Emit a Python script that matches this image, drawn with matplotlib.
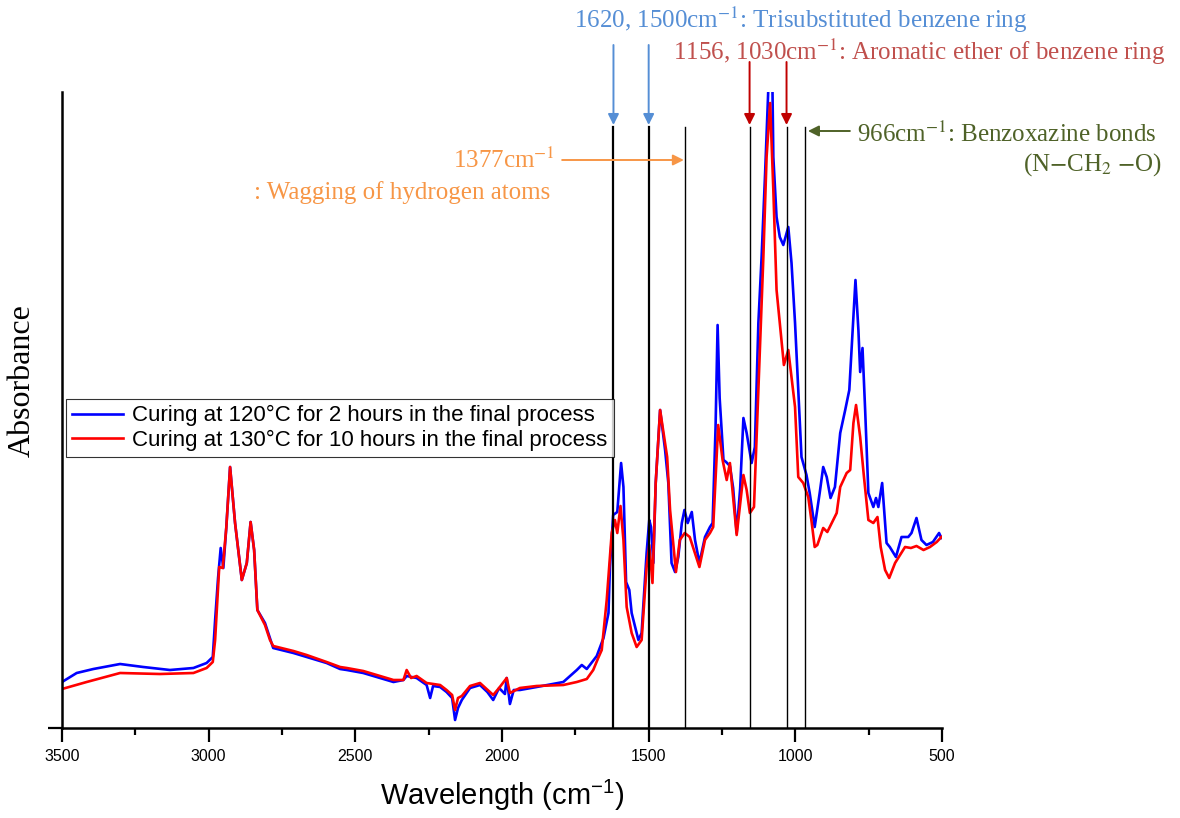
import matplotlib
matplotlib.use('Agg')
import matplotlib.pyplot as plt

# FTIR spectra, wavenumber (cm-1) vs absorbance (arb. units)
wn_120 = [3500, 3450, 3393, 3302, 3223, 3132, 3052, 3007, 2986, 2978, 2968, 2959, 2950, 2940,
          2927, 2910, 2887, 2870, 2857, 2845, 2834, 2808, 2791, 2780, 2711, 2666, 2598, 2552,
          2529, 2473, 2370, 2336, 2325, 2291, 2257, 2245, 2235, 2211, 2189, 2170, 2160, 2150,
          2137, 2109, 2075, 2050, 2030, 2010, 1990, 1984, 1973, 1960, 1939, 1882, 1791, 1745,
          1728, 1711, 1677, 1654, 1637, 1632, 1621, 1607, 1594, 1586, 1577, 1566, 1558, 1535,
          1524, 1507, 1498, 1492, 1484, 1476, 1461, 1444, 1433, 1422, 1410, 1399, 1387, 1378,
          1367, 1353, 1342, 1327, 1308, 1291, 1282, 1272, 1265, 1258, 1245, 1236, 1223, 1212,
          1200, 1188, 1177, 1166, 1149, 1138, 1126, 1115, 1103, 1092, 1085, 1078, 1075, 1064,
          1053, 1041, 1024, 1013, 1001, 990, 979, 962, 951, 934, 917, 905, 893, 880, 865, 847,
          830, 816, 804, 795, 785, 779, 771, 762, 751, 734, 725, 717, 704, 689, 678, 657, 638,
          615, 604, 587, 570, 553, 531, 510, 502]
abs_120 = [0.046, 0.055, 0.059, 0.064, 0.061, 0.058, 0.060, 0.065, 0.071, 0.108, 0.150, 0.180,
           0.160, 0.200, 0.261, 0.205, 0.148, 0.165, 0.206, 0.178, 0.118, 0.105, 0.090, 0.080,
           0.075, 0.071, 0.065, 0.059, 0.058, 0.055, 0.046, 0.048, 0.052, 0.050, 0.043, 0.030,
           0.042, 0.041, 0.036, 0.030, 0.008, 0.020, 0.028, 0.040, 0.043, 0.036, 0.028, 0.040,
           0.034, 0.050, 0.024, 0.038, 0.038, 0.041, 0.046, 0.058, 0.063, 0.059, 0.072, 0.090,
           0.115, 0.161, 0.213, 0.216, 0.265, 0.241, 0.146, 0.138, 0.115, 0.088, 0.095, 0.175,
           0.208, 0.201, 0.165, 0.245, 0.318, 0.278, 0.245, 0.165, 0.156, 0.171, 0.205, 0.218,
           0.205, 0.216, 0.188, 0.165, 0.191, 0.201, 0.205, 0.300, 0.403, 0.330, 0.268, 0.266,
           0.262, 0.240, 0.195, 0.240, 0.310, 0.295, 0.265, 0.281, 0.405, 0.471, 0.555, 0.640,
           0.670, 0.640, 0.571, 0.511, 0.491, 0.483, 0.501, 0.465, 0.405, 0.338, 0.271, 0.253,
           0.235, 0.201, 0.235, 0.261, 0.251, 0.230, 0.241, 0.295, 0.318, 0.338, 0.401, 0.448,
           0.398, 0.356, 0.380, 0.318, 0.235, 0.221, 0.230, 0.221, 0.245, 0.185, 0.181, 0.171,
           0.191, 0.191, 0.195, 0.210, 0.188, 0.183, 0.186, 0.195, 0.190]

wn_130 = [3500, 3416, 3302, 3166, 3052, 3007, 2986, 2978, 2964, 2952, 2940, 2927, 2910, 2887,
          2870, 2857, 2845, 2834, 2808, 2791, 2780, 2711, 2666, 2598, 2552, 2529, 2473, 2370,
          2336, 2325, 2310, 2291, 2257, 2211, 2189, 2170, 2160, 2150, 2137, 2109, 2075, 2030,
          2010, 1984, 1973, 1939, 1882, 1791, 1745, 1711, 1689, 1672, 1660, 1643, 1626, 1615,
          1607, 1596, 1586, 1575, 1558, 1541, 1524, 1507, 1498, 1487, 1476, 1461, 1437, 1427,
          1407, 1394, 1377, 1360, 1327, 1308, 1291, 1280, 1263, 1248, 1234, 1223, 1200, 1177,
          1166, 1155, 1141, 1126, 1109, 1098, 1086, 1075, 1064, 1053, 1039, 1024, 1013, 1001,
          990, 973, 956, 944, 934, 925, 905, 891, 876, 859, 847, 825, 813, 802, 793, 779, 766,
          751, 734, 720, 709, 694, 680, 660, 643, 626, 606, 587, 563, 541, 518, 502]
abs_130 = [0.039, 0.046, 0.055, 0.054, 0.055, 0.060, 0.066, 0.088, 0.161, 0.160, 0.200, 0.261,
           0.205, 0.148, 0.165, 0.206, 0.178, 0.118, 0.103, 0.088, 0.082, 0.077, 0.073, 0.066,
           0.061, 0.060, 0.057, 0.048, 0.048, 0.058, 0.050, 0.052, 0.045, 0.043, 0.038, 0.033,
           0.018, 0.030, 0.032, 0.042, 0.045, 0.033, 0.040, 0.050, 0.035, 0.040, 0.042, 0.043,
           0.046, 0.049, 0.058, 0.070, 0.078, 0.128, 0.195, 0.208, 0.195, 0.222, 0.188, 0.121,
           0.095, 0.081, 0.088, 0.161, 0.183, 0.145, 0.245, 0.318, 0.271, 0.218, 0.156, 0.188,
           0.195, 0.191, 0.161, 0.188, 0.195, 0.201, 0.303, 0.268, 0.248, 0.265, 0.193, 0.253,
           0.238, 0.215, 0.221, 0.338, 0.471, 0.571, 0.625, 0.538, 0.438, 0.405, 0.363, 0.378,
           0.351, 0.321, 0.251, 0.245, 0.231, 0.205, 0.181, 0.183, 0.200, 0.196, 0.205, 0.215,
           0.241, 0.255, 0.258, 0.305, 0.323, 0.291, 0.251, 0.208, 0.205, 0.211, 0.181, 0.158,
           0.150, 0.165, 0.173, 0.181, 0.180, 0.182, 0.178, 0.181, 0.186, 0.191]

marker_wn = [1620, 1500, 1377, 1156, 1030, 966]
marker_top = 0.601

label_120 = 'Curing at 120°C for 2 hours in the final process'
label_130 = 'Curing at 130°C for 10 hours in the final process'

c_blue_txt = '#558ed5'
c_red_txt = '#c0504d'
c_red_arr = '#c00000'
c_green = '#4f6228'
c_orange = '#f79646'
serif = 'Liberation Serif'
fs_note = 18
plt.rcParams['mathtext.fontset'] = 'stix'

fig = plt.figure(figsize=(11.8, 8.18), dpi=100)
ax = fig.add_axes([62/1180, 1 - 728/818, 880/1180, 636/818])

ax.plot(wn_120, abs_120, color='#0000ff', lw=1.9, label=label_120)
ax.plot(wn_130, abs_130, color='#ff0000', lw=1.9, label=label_130)

for i, w in enumerate(marker_wn):
    ax.plot([w, w], [0, marker_top], color='black', lw=1.6 if i < 2 else 1.0, zorder=3)

ax.set_xlim(3500, 500)
ax.set_ylim(0, 0.636)
ax.set_xticks([3500, 3000, 2500, 2000, 1500, 1000, 500])
ax.set_xticks(range(3250, 500, -500), minor=True)
ax.set_yticks([0])
ax.set_yticklabels([])
ax.tick_params(axis='x', which='major', length=10, width=1.6, labelsize=11.5, pad=5)
ax.tick_params(axis='x', which='minor', length=5, width=1.6)
ax.tick_params(axis='y', length=10, width=1.6)
for lab in ax.get_xticklabels():
    lab.set_family('Liberation Sans')
for s in ['top', 'right']:
    ax.spines[s].set_visible(False)
ax.spines['left'].set_linewidth(1.8)
ax.spines['bottom'].set_linewidth(1.8)

ax.set_xlabel(r'Wavelength (cm$\mathregular{^{-1}}$)', family='Liberation Sans',
              fontsize=21, labelpad=10)
ax.set_ylabel('Absorbance', family=serif, fontsize=23)
ax.yaxis.label.set_va('center')
ax.yaxis.set_label_coords(-0.045, 0.547)

leg = ax.legend(loc='upper left', bbox_to_anchor=(0.004, 0.518),
                prop={'family': 'Liberation Sans', 'size': 16},
                frameon=True, fancybox=False, borderaxespad=0, handlelength=2.3,
                handletextpad=0.4, borderpad=0.3, labelspacing=0.15)
leg.get_frame().set_edgecolor('black')
leg.get_frame().set_linewidth(0.8)

arw = dict(arrowstyle='-|>', lw=1.4, mutation_scale=16, shrinkA=0, shrinkB=0)

# blue: trisubstituted benzene ring
ax.text(1755, 0.708, r'1620, 1500cm$^{-1}$: Trisubstituted benzene ring', color=c_blue_txt,
        family=serif, fontsize=fs_note, ha='left', va='center', clip_on=False)
for w in [1620, 1500]:
    ax.annotate('', xy=(w, 0.603), xytext=(w, 0.683), annotation_clip=False,
                arrowprops=dict(arw, color=c_blue_txt))

# red: aromatic ether
ax.text(1417, 0.676, r'1156, 1030cm$^{-1}$: Aromatic ether of benzene ring', color=c_red_txt,
        family=serif, fontsize=fs_note, ha='left', va='center', clip_on=False)
for w in [1156, 1030]:
    ax.annotate('', xy=(w, 0.603), xytext=(w, 0.666), annotation_clip=False,
                arrowprops=dict(arw, color=c_red_arr))

# green: benzoxazine bonds
ax.text(790, 0.594, r'966cm$^{-1}$: Benzoxazine bonds', color=c_green,
        family=serif, fontsize=fs_note, ha='left', va='center', clip_on=False)
ax.text(-250, 0.563, r'(N$-$CH$_2$ $-$O)', color=c_green,
        family=serif, fontsize=fs_note, ha='right', va='center', clip_on=False)
ax.annotate('', xy=(957, 0.597), xytext=(814, 0.597), annotation_clip=False,
            arrowprops=dict(arw, color=c_green))

# orange: wagging of hydrogen atoms
ax.text(1819, 0.568, r'1377cm$^{-1}$', color=c_orange,
        family=serif, fontsize=fs_note, ha='right', va='center', clip_on=False)
ax.text(1836, 0.535, ': Wagging of hydrogen atoms', color=c_orange,
        family=serif, fontsize=fs_note, ha='right', va='center', clip_on=False)
ax.annotate('', xy=(1380, 0.568), xytext=(1795, 0.568), annotation_clip=False,
            arrowprops=dict(arw, color=c_orange))

fig.savefig('out.png', dpi=100)
